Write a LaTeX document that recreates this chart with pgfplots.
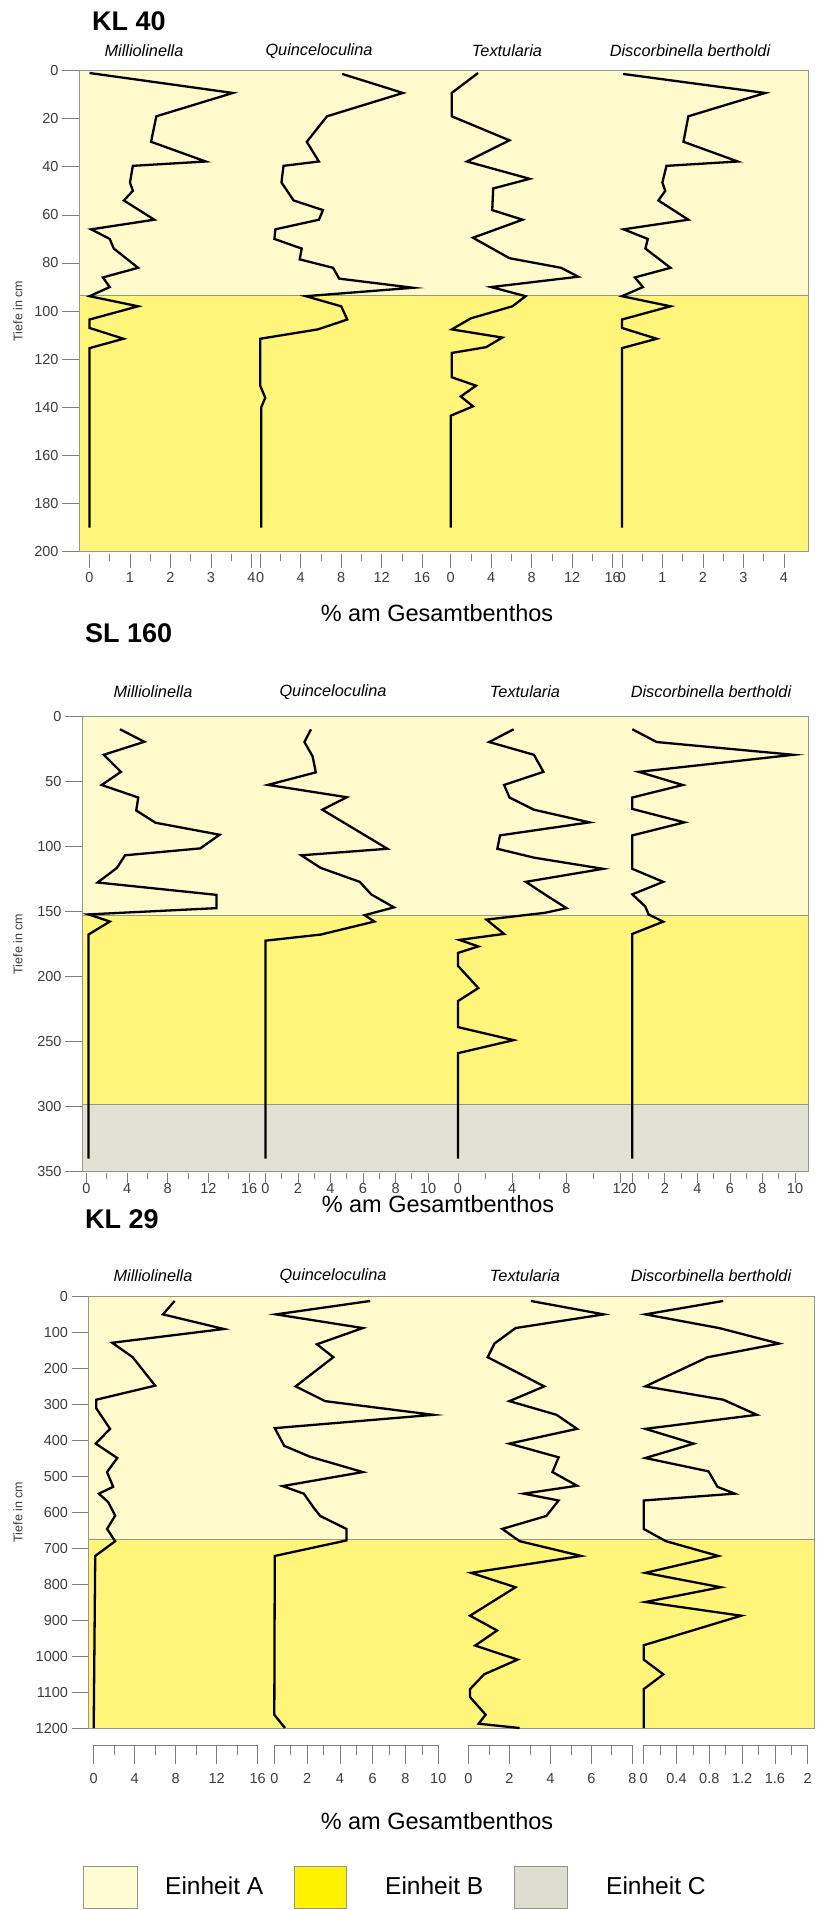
\documentclass[border=0pt]{standalone}
\usepackage{fontspec}
\setmainfont{Liberation Sans}
\usepackage{pgfplots}
\usepackage{pgfplotstable}
\pgfplotsset{compat=1.18}

\definecolor{unitA}{RGB}{255,250,204}
\definecolor{unitB}{RGB}{255,245,122}
\definecolor{unitC}{RGB}{226,226,212}
\definecolor{legA}{RGB}{255,252,212}
\definecolor{legB}{RGB}{255,242,0}
\definecolor{legC}{RGB}{222,222,206}
\definecolor{tickgray}{RGB}{125,125,125}
\definecolor{boxgray}{RGB}{150,150,140}
\definecolor{labelgray}{RGB}{60,60,60}

% ---------------- KL 40 ----------------
\pgfplotstableread{
d v
1 0
9.3 3.54
19 1.65
29.6 1.52
37.8 2.87
39.6 1.07
46.5 1.0
50 1.07
54 0.85
62 1.6
66 0.04
70 0.5
74 0.6
82 1.2
86 0.33
90 0.5
93.8 0
98 1.2
103.5 0
107 0
111.5 0.84
115.4 0
190 0
}\klAmil
\pgfplotstableread{
d v
1.4 8.1
9.3 14.1
19 6.6
29.6 4.6
37.8 5.8
39.6 2.3
46.5 2.1
54 3.3
58 6.2
62 5.8
66 1.5
70 1.4
74 4.1
78.5 3.9
82 7.2
86.5 7.8
90.3 15.1
93.8 4.5
98 8.0
103.5 8.6
107.6 5.7
111.5 0
131 0
136 0.5
140 0.1
190 0.1
}\klAquin
\pgfplotstableread{
d v
1 2.7
9.3 0.1
19 0.1
29 5.8
37.8 1.6
45 7.8
49 4.2
58 4.1
62 7.1
69.5 2.2
78 5.8
82 10.9
85.7 12.6
90 4.0
93.8 7.4
98 6.1
103 2.0
107.6 0.1
111 5.1
115 3.5
117.4 0.1
127.5 0.1
131 2.5
135.5 1.0
139.6 2.2
143.5 0
190 0
}\klAtext
\pgfplotstableread{
d v
1.4 0.03
9.3 3.54
19 1.64
29.6 1.52
37.8 2.86
39.6 1.1
46.5 1.0
50 1.07
54 0.9
62 1.64
66 0.04
70 0.64
74 0.58
82 1.2
86 0.32
90 0.52
93.8 0
98 1.2
103.5 0
107 0
111.5 0.86
115.4 0
190 0
}\klAdisc

% ---------------- SL 160 ----------------
\pgfplotstableread{
d v
10.2 3.3
19.8 5.7
29.8 1.7
42.9 3.4
53 1.5
62.6 5.1
72.6 4.9
82 6.8
91.2 13.1
101.7 11.2
107 3.8
116.7 3.0
127.9 1.1
137.4 12.8
147.6 12.8
152.4 0.2
157.9 2.3
167.9 0.2
340 0.2
}\slmil
\pgfplotstableread{
d v
10.2 2.8
20 2.4
31 2.9
43.3 3.1
52.9 0.16
62.4 5.0
72 3.5
102 7.5
107 2.2
116.7 3.4
127.4 5.8
137 6.5
147 7.9
153 6.1
157.9 6.7
167.9 3.4
172.6 0
340 0
}\slquin
\pgfplotstableread{
d v
10.2 4.1
20 2.3
29.8 5.6
42.9 6.3
53 3.4
62.6 3.8
72 5.6
81.7 9.7
91.7 3.1
102 2.9
108.8 5.6
117.4 10.7
127.4 5.0
137 6.4
147.6 8.0
151.2 6.4
156.4 2.1
167.4 3.4
172 0.1
177 1.5
182 0
192 0
209 1.5
219 0
239 0
249 4.1
259 0
340 0
}\sltext
\pgfplotstableread{
d v
10.2 0
20 1.5
29.8 9.9
42.9 0.4
53 3.1
62.6 0
71.4 0
81.7 3.2
91.7 0
117.4 0
127.4 1.9
137 0
146.4 0.8
152.4 1.0
158 1.9
167.4 0
340 0
}\sldisc

% ---------------- KL 29 ----------------
\pgfplotstableread{
d v
13.8 7.9
51 6.75
91.6 12.7
129.8 1.8
170 3.8
249 6.0
288 0.25
312 0.25
369 1.6
410 0.2
450 2.3
489 1.3
530 1.9
549 0.5
572 1.4
610 2.1
647 1.3
681 2.1
722 0.15
1200 0
}\klBmil
\pgfplotstableread{
d v
13.8 5.85
51 0.1
89 5.4
134 2.6
170 3.6
251 1.3
292 3.1
330 9.7
367 0.03
416 0.6
446 2.15
489 5.4
528 0.5
549 1.8
588 2.4
611 2.8
647 4.4
679 4.4
722 0.03
1163 0
1200 0.65
}\klBquin
\pgfplotstableread{
d v
13.8 3.05
51 6.6
89 2.3
132 1.27
170 0.94
251 3.7
292 2.0
330 4.3
369 5.3
410 2.0
448 4.4
489 4.1
527 5.3
549 2.7
568 4.4
611 3.8
647 1.65
681 2.5
722 5.5
769 0.13
809 2.3
888 0.08
929 1.4
971 0.33
1010 2.4
1051 0.76
1092 0.08
1114 0.08
1163 0.84
1188 0.5
1200 2.5
}\klBtext
\pgfplotstableread{
d v
13.8 0.97
51 0.02
89 0.92
132 1.65
170 0.78
251 0.02
288 0.97
330 1.38
369 0.02
410 0.61
450 0.02
487 0.79
530 0.9
549 1.11
568 0
647 0
681 0.27
722 0.91
769 0.02
809 0.94
850 0.02
888 1.19
970 0
1010 0
1051 0.24
1092 0
1200 0
}\klBdisc

\pgfplotsset{
  base/.style={scale only axis, clip=false,
    /pgf/number format/assume math mode=true,
    /pgf/number format/1000 sep={},
    tick label style={font=\fontsize{14.5}{14.5}\selectfont, text=labelgray}},
  mainax/.style={base, xmin=0, xmax=1, ymin=0, y dir=reverse,
    xtick=\empty, ytick pos=left, tick align=outside,
    major tick length=17pt,
    tick style={tickgray, line width=0.8pt},
    axis line style={draw=boxgray, line width=0.7pt},
    axis on top},
  spec/.style={base, ymax=0, hide y axis,
    axis x line*=bottom, x axis line style={-},
    tick align=outside, major tick length=14pt, minor tick length=7pt,
    minor x tick num=1,
    tick style={tickgray, line width=0.8pt},
    xticklabel shift=1pt},
  curve/.style={black, line width=2.3pt, line join=miter, no marks},
  bound/.style={boxgray, line width=0.8pt, no marks},
  % panel-specific species axes
  pA/.style={spec, x axis line style={draw=none}, width=162pt, height=483pt, ymin=-200.83},
  pB/.style={spec, x axis line style={draw=none}, width=162.7pt, height=457.1pt, ymin=-351.15,
    major tick length=10pt, minor tick length=6pt, xticklabel shift=-3pt},
  pC/.style={spec, x axis line style={draw=tickgray, line width=0.8pt}, width=164pt, height=449pt, ymin=-1247.22,
    major tick length=19pt, minor tick length=10pt, xticklabel shift=6pt},
}

\begin{document}
\begin{tikzpicture}
\path[use as bounding box] (0pt,0pt) rectangle (816pt,-1910pt);

% ================= Panel 1: KL 40 =================
\begin{axis}[mainax, at={(79pt,-70.6pt)}, anchor=north west,
  width=729pt, height=481pt, ymax=200, ytick={0,20,...,200}]
  \addplot[fill=unitA, draw=none] coordinates {(0,0) (1,0) (1,93.5) (0,93.5)} -- cycle;
  \addplot[fill=unitB, draw=none] coordinates {(0,93.5) (1,93.5) (1,200) (0,200)} -- cycle;
  \addplot[bound] coordinates {(0,93.5) (1,93.5)};
\end{axis}
\begin{axis}[pA, at={(89.5pt,-70.6pt)}, anchor=north west, xmin=0, xmax=4, xtick={0,1,...,4}]
  \addplot[curve] table[x=v, y expr=-\thisrow{d}] {\klAmil};
\end{axis}
\begin{axis}[pA, at={(260.2pt,-70.6pt)}, anchor=north west, xmin=0, xmax=16, xtick={0,4,...,16}]
  \addplot[curve] table[x=v, y expr=-\thisrow{d}] {\klAquin};
\end{axis}
\begin{axis}[pA, at={(450.7pt,-70.6pt)}, anchor=north west, xmin=0, xmax=16, xtick={0,4,...,16}]
  \addplot[curve] table[x=v, y expr=-\thisrow{d}] {\klAtext};
\end{axis}
\begin{axis}[pA, at={(621.9pt,-70.6pt)}, anchor=north west, xmin=0, xmax=4, xtick={0,1,...,4}]
  \addplot[curve] table[x=v, y expr=-\thisrow{d}] {\klAdisc};
\end{axis}

% ================= Panel 2: SL 160 =================
\begin{axis}[mainax, at={(82pt,-716pt)}, anchor=north west,
  width=726pt, height=455.6pt, ymax=350, ytick={0,50,...,350}]
  \addplot[fill=unitA, draw=none] coordinates {(0,0) (1,0) (1,153) (0,153)} -- cycle;
  \addplot[fill=unitB, draw=none] coordinates {(0,153) (1,153) (1,298) (0,298)} -- cycle;
  \addplot[fill=unitC, draw=none] coordinates {(0,298) (1,298) (1,350) (0,350)} -- cycle;
  \addplot[bound] coordinates {(0,153) (1,153)};
  \addplot[bound] coordinates {(0,298) (1,298)};
\end{axis}
\begin{axis}[pB, at={(86.4pt,-716pt)}, anchor=north west, xmin=0, xmax=16, xtick={0,4,...,16}]
  \addplot[curve] table[x=v, y expr=-\thisrow{d}] {\slmil};
\end{axis}
\begin{axis}[pB, at={(265.4pt,-716pt)}, anchor=north west, xmin=0, xmax=10, xtick={0,2,...,10}]
  \addplot[curve] table[x=v, y expr=-\thisrow{d}] {\slquin};
\end{axis}
\begin{axis}[pB, at={(458pt,-716pt)}, anchor=north west, xmin=0, xmax=12, xtick={0,4,...,12}]
  \addplot[curve] table[x=v, y expr=-\thisrow{d}] {\sltext};
\end{axis}
\begin{axis}[pB, at={(632.3pt,-716pt)}, anchor=north west, xmin=0, xmax=10, xtick={0,2,...,10}]
  \addplot[curve] table[x=v, y expr=-\thisrow{d}] {\sldisc};
\end{axis}

% ================= Panel 3: KL 29 =================
\begin{axis}[mainax, at={(88.5pt,-1296pt)}, anchor=north west,
  width=725.5pt, height=432pt, ymax=1200, ytick={0,100,...,1200}]
  \addplot[fill=unitA, draw=none] coordinates {(0,0) (1,0) (1,677) (0,677)} -- cycle;
  \addplot[fill=unitB, draw=none] coordinates {(0,677) (1,677) (1,1200) (0,1200)} -- cycle;
  \addplot[bound] coordinates {(0,677) (1,677)};
\end{axis}
\begin{axis}[pC, at={(93.7pt,-1296pt)}, anchor=north west, xmin=0, xmax=16, xtick={0,4,...,16}]
  \addplot[curve] table[x=v, y expr=-\thisrow{d}] {\klBmil};
\end{axis}
\begin{axis}[pC, at={(274.3pt,-1296pt)}, anchor=north west, xmin=0, xmax=10, xtick={0,2,...,10}]
  \addplot[curve] table[x=v, y expr=-\thisrow{d}] {\klBquin};
\end{axis}
\begin{axis}[pC, at={(468.4pt,-1296pt)}, anchor=north west, xmin=0, xmax=8, xtick={0,2,...,8}]
  \addplot[curve] table[x=v, y expr=-\thisrow{d}] {\klBtext};
\end{axis}
\begin{axis}[pC, at={(643.7pt,-1296pt)}, anchor=north west, xmin=0, xmax=2,
  xtick={0,0.4,0.8,1.2,1.6,2}, xticklabels={0,0.4,0.8,1.2,1.6,2}]
  \addplot[curve] table[x=v, y expr=-\thisrow{d}] {\klBdisc};
\end{axis}

% ================= Titles and labels =================
\begin{scope}[every node/.style={inner sep=0pt}]
\node[anchor=west, font=\fontsize{27}{27}\bfseries\selectfont] at (92pt,-21pt) {KL 40};
\node[anchor=west, font=\fontsize{27}{27}\bfseries\selectfont] at (85pt,-633pt) {SL 160};
\node[anchor=west, font=\fontsize{27}{27}\bfseries\selectfont] at (85pt,-1219pt) {KL 29};

\foreach \yy/\xa/\xb/\xc/\xd in {51/144/319/507/690, 692/153/333/525/711, 1276/153/333/525/711}{
  \node[font=\fontsize{16.3}{16.3}\itshape\selectfont] at (\xa pt,-\yy pt) {Milliolinella};
  \node[font=\fontsize{16.3}{16.3}\itshape\selectfont] at (\xb pt,-\yy pt) {Quinceloculina};
  \node[font=\fontsize{16.3}{16.3}\itshape\selectfont] at (\xc pt,-\yy pt) {Textularia};
  \node[font=\fontsize{16.3}{16.3}\itshape\selectfont] at (\xd pt,-\yy pt) {Discorbinella bertholdi};
}

\node[font=\fontsize{23.5}{23.5}\selectfont] at (437pt,-613pt) {\% am Gesamtbenthos};
\node[font=\fontsize{23.5}{23.5}\selectfont] at (438pt,-1204pt) {\% am Gesamtbenthos};
\node[font=\fontsize{23.5}{23.5}\selectfont] at (437pt,-1821pt) {\% am Gesamtbenthos};

\node[rotate=90, font=\fontsize{12.5}{12.5}\selectfont, text=labelgray] at (18pt,-311pt) {Tiefe in cm};
\node[rotate=90, font=\fontsize{12.5}{12.5}\selectfont, text=labelgray] at (18pt,-944pt) {Tiefe in cm};
\node[rotate=90, font=\fontsize{12.5}{12.5}\selectfont, text=labelgray] at (18pt,-1512pt) {Tiefe in cm};

% legend
\draw[fill=legA, draw=boxgray, line width=0.7pt] (83pt,-1866pt) rectangle (137pt,-1908pt);
\draw[fill=legB, draw=boxgray, line width=0.7pt] (294pt,-1866pt) rectangle (346pt,-1908pt);
\draw[fill=legC, draw=boxgray, line width=0.7pt] (514pt,-1866pt) rectangle (567pt,-1908pt);
\node[anchor=west, font=\fontsize{24.5}{24.5}\selectfont] at (165pt,-1886pt) {Einheit A};
\node[anchor=west, font=\fontsize{24.5}{24.5}\selectfont] at (385pt,-1886pt) {Einheit B};
\node[anchor=west, font=\fontsize{24.5}{24.5}\selectfont] at (606pt,-1886pt) {Einheit C};
\end{scope}
\end{tikzpicture}
\end{document}
